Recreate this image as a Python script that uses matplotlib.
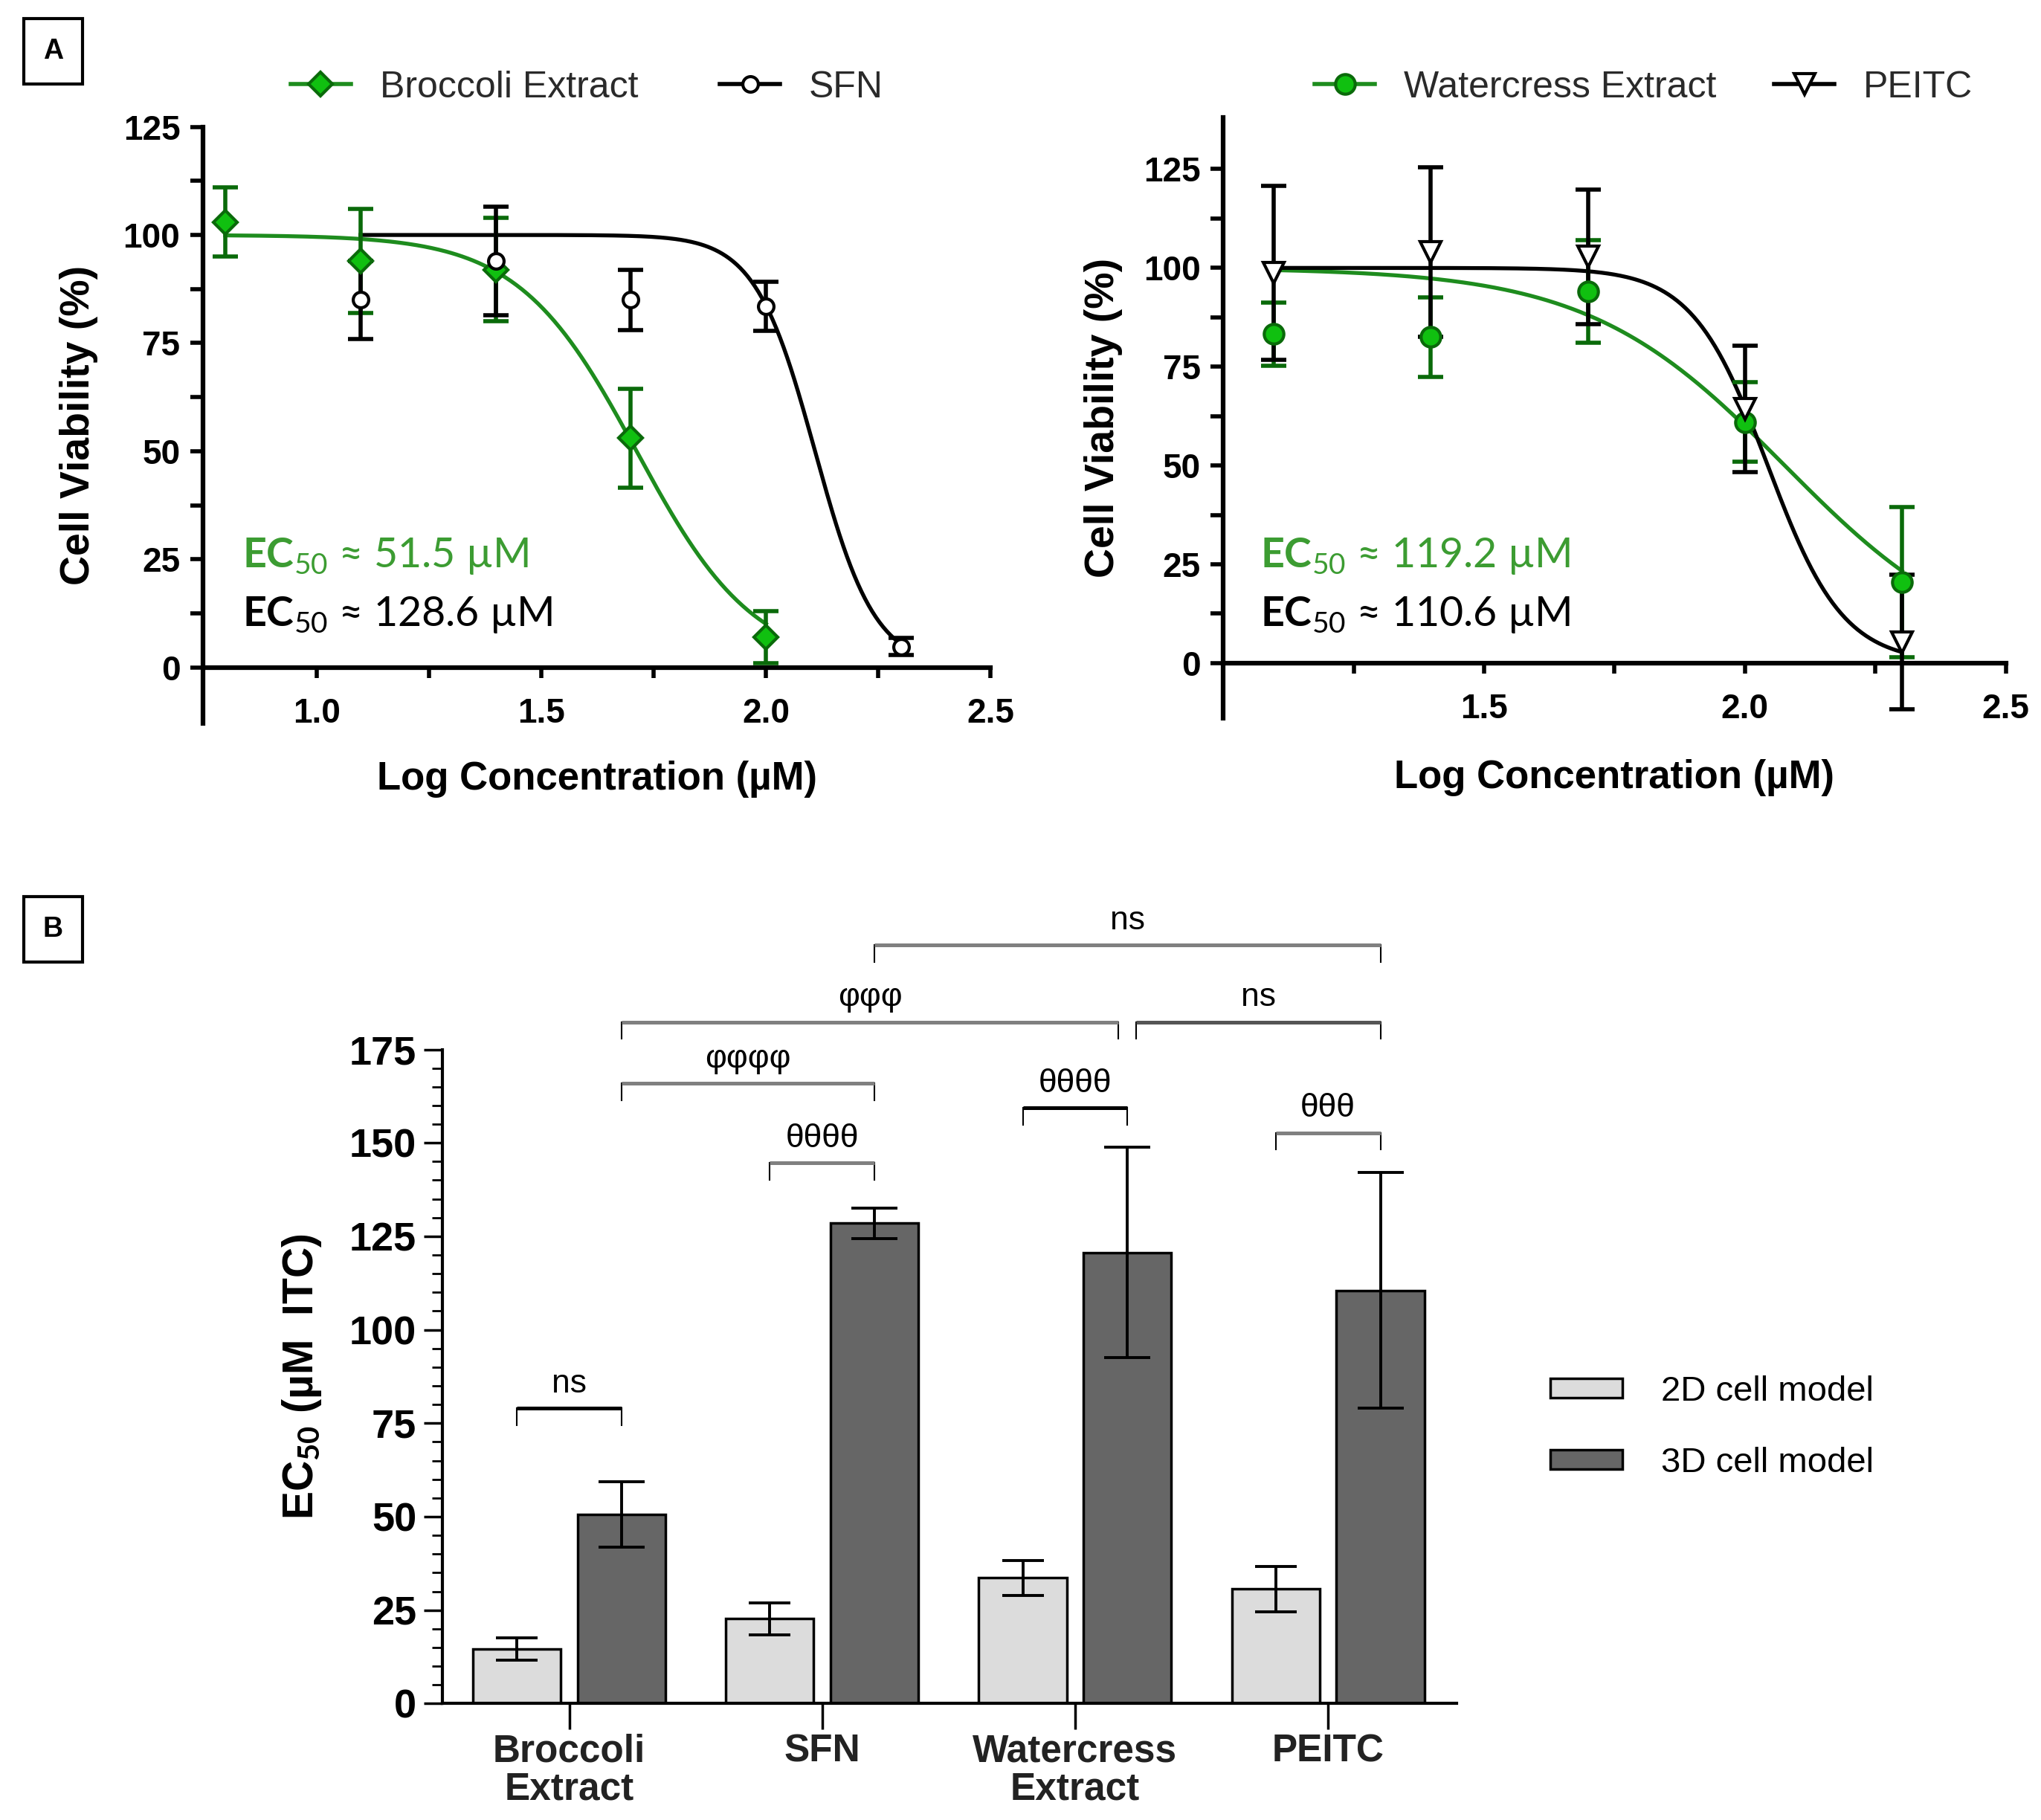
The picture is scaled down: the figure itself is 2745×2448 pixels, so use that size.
import numpy as np
import matplotlib
matplotlib.use("Agg")
import matplotlib.pyplot as plt
from matplotlib.lines import Line2D
from matplotlib.patches import Rectangle

plt.rcParams['mathtext.fontset'] = 'custom'
plt.rcParams['mathtext.rm'] = 'Lato'
plt.rcParams['mathtext.bf'] = 'Lato:bold'

NARROW = ['Liberation Sans', 'DejaVu Sans']
SANS = ['Liberation Sans', 'DejaVu Sans']
CALIB = ['Lato', 'DejaVu Sans']

# ---- panel A data (concentrations in uM, viability in %) ----
conc_broc = [6.25, 12.5, 25, 50, 100]
broc_mean = [103, 94, 92, 53, 7]
broc_sd = [8, 12, 12, 11.5, 6]

conc_sfn = [12.5, 25, 50, 100, 200]
sfn_mean = [85, 94, 85, 83.5, 4.8]
sfn_sd = [9, 12.5, 7, 5.7, 2]

conc_water = [12.5, 25, 50, 100, 200]
water_mean = [83.3, 82.5, 94, 61, 20.5]
water_sd = [8, 10, 13, 10, 19]

conc_peitc = [12.5, 25, 50, 100, 200]
peitc_mean = [98.8, 104, 102.8, 64.3, 5.3]
peitc_sd = [22, 21.5, 17, 16, 17]

# fitted dose-response parameters
broc_ec50, broc_hill = 51.5, 3.3
sfn_ec50, sfn_hill = 128.6, 6.5
water_ec50, water_hill = 119.2, 2.3
peitc_ec50, peitc_hill = 110.6, 6.0

# ---- panel B data ----
categories = ["Broccoli\nExtract", "SFN", "Watercress\nExtract", "PEITC"]
ec50_2d = [14.6, 22.7, 33.6, 30.6]
err_2d = [3.0, 4.3, 4.6, 6.0]
ec50_3d = [50.6, 128.5, 120.7, 110.5]
err_3d = [8.7, 4.1, 28.2, 31.5]

# comparisons: (group, model), (group, model), height, label, bar colour
comparisons = [
    ((0, 0), (0, 1), 79, "ns", "black"),
    ((1, 0), (1, 1), 144.6, "θθθθ", "#808080"),
    ((2, 0), (2, 1), 159.3, "θθθθ", "black"),
    ((3, 0), (3, 1), 152.7, "θθθ", "#808080"),
    ((0, 1), (1, 1), 165.9, "φφφφ", "#808080"),
    ((0, 1), (2, 1), 182.3, "φφφ", "#808080"),
    ((2, 1), (3, 1), 182.3, "ns", "#555555"),
    ((1, 1), (3, 1), 202.9, "ns", "#808080"),
]

GREEN_LINE = '#1e8c1e'
GREEN_DARK = '#0a6a0a'
GREEN_FACE = '#10c010'
GREEN_TEXT = '#3c9c32'


def hill(logx, ec50, h):
    return 100.0 / (1 + 10 ** ((logx - np.log10(ec50)) * h))


fig = plt.figure(figsize=(27.45, 24.48), dpi=100)

axL = fig.add_axes([0.0994, 0.6024, 0.3859, 0.3279])
axR = fig.add_axes([0.5994, 0.6053, 0.3833, 0.3300])
axB = fig.add_axes([0.2167, 0.0640, 0.4968, 0.3594])


def style_dose_axis(ax, xlim, ylim, xmajor):
    ax.set_xlim(*xlim)
    ax.set_ylim(*ylim)
    for s in ['top', 'right']:
        ax.spines[s].set_visible(False)
    ax.spines['bottom'].set_position(('data', 0))
    ax.spines['left'].set_linewidth(4.5)
    ax.spines['bottom'].set_linewidth(4.5)
    ax.set_yticks([0, 25, 50, 75, 100, 125])
    ax.set_yticks([12.5, 37.5, 62.5, 87.5, 112.5], minor=True)
    ax.set_xticks(xmajor)
    ax.set_xticks([1.25, 1.75, 2.25], minor=True)
    ax.tick_params(axis='y', which='both', direction='out', length=12, width=4, pad=10)
    ax.tick_params(axis='x', which='both', direction='out', length=10, width=4, pad=19)
    for lab in ax.get_xticklabels() + ax.get_yticklabels():
        lab.set_fontfamily(NARROW)
        lab.set_fontweight('bold')
        lab.set_fontsize(33)


def dose_panel(ax, series, legend_x, colspace, ec_texts):
    handles = []
    for conc, mean, sd, ec50, h, col, fc, ec, mk, ms, label in series:
        lx = np.log10(conc)
        xs = np.linspace(lx[0], lx[-1], 300)
        ax.plot(xs, hill(xs, ec50, h), color=col, lw=3.8, zorder=2, clip_on=False)
        ax.errorbar(lx, mean, yerr=sd, fmt='none', ecolor=ec, elinewidth=4,
                    capsize=12, capthick=4, zorder=3, clip_on=False)
        ax.plot(lx, mean, ls='none', marker=mk, ms=ms, mfc=fc, mec=ec, mew=3,
                zorder=4, clip_on=False)
        handles.append(Line2D([], [], color=col, lw=4, marker=mk, ms=ms,
                              mfc=fc, mec=ec, mew=3, label=label))
    ax.set_ylabel("Cell Viability (%)", fontfamily=SANS, fontweight='bold', fontsize=40)
    ax.set_xlabel("Log Concentration (µM)", fontfamily=SANS, fontweight='bold', fontsize=38)
    fig.legend(handles=handles, loc='center left', bbox_to_anchor=(legend_x, 0.9518),
               ncol=2, frameon=False, borderpad=0, borderaxespad=0,
               handlelength=1.62, handletextpad=0.78, columnspacing=colspace,
               prop={'family': NARROW, 'size': 36}, labelcolor='#2a2a2a')
    for (tx, ty, num, col) in ec_texts:
        ax.text(tx, ty, r"$\mathbf{EC}_{\mathrm{50}}$" + " ≈ " + num + " µM",
                transform=ax.transAxes, color=col, fontsize=40, fontfamily=CALIB,
                va='center', ha='left')


# ---- A left ----
style_dose_axis(axL, (0.746, 2.5), (-13, 125), [1.0, 1.5, 2.0, 2.5])
dose_panel(axL, [
    (conc_broc, broc_mean, broc_sd, broc_ec50, broc_hill, GREEN_LINE, GREEN_FACE, GREEN_DARK, 'D', 16, 'Broccoli Extract'),
    (conc_sfn, sfn_mean, sfn_sd, sfn_ec50, sfn_hill, 'black', 'white', 'black', 'o', 15, 'SFN'),
], 0.1423, 2.2, [(0.05, 0.281, "51.5", GREEN_TEXT), (0.05, 0.182, "128.6", 'black')])
axL.yaxis.set_label_coords(-0.133, 0.5)
axL.xaxis.set_label_coords(0.5, -0.062)

# ---- A right ----
style_dose_axis(axR, (1.0, 2.5), (-14, 138), [1.5, 2.0, 2.5])
dose_panel(axR, [
    (conc_water, water_mean, water_sd, water_ec50, water_hill, GREEN_LINE, GREEN_FACE, GREEN_DARK, 'o', 19, 'Watercress Extract'),
    (conc_peitc, peitc_mean, peitc_sd, peitc_ec50, peitc_hill, 'black', 'white', 'black', 'v', 20, 'PEITC'),
], 0.6442, 1.55, [(0.047, 0.270, "119.2", GREEN_TEXT), (0.047, 0.172, "110.6", 'black')])
axR.yaxis.set_label_coords(-0.129, 0.5)
axR.xaxis.set_label_coords(0.5, -0.068)

# ---- B bars ----
x = np.arange(len(categories))
off, bw = 0.207, 0.347
axB.bar(x - off, ec50_2d, bw, color='#dcdcdc', edgecolor='black', lw=2.5, zorder=2, label='2D cell model')
axB.bar(x + off, ec50_3d, bw, color='#666666', edgecolor='black', lw=2.5, zorder=2, label='3D cell model')
axB.errorbar(x - off, ec50_2d, yerr=err_2d, fmt='none', ecolor='black', elinewidth=2.8,
             capsize=20, capthick=2.8, zorder=3)
axB.errorbar(x + off, ec50_3d, yerr=err_3d, fmt='none', ecolor='black', elinewidth=2.8,
             capsize=22, capthick=2.8, zorder=3)
axB.set_xlim(-0.502, 3.507)
axB.set_ylim(0, 175)
for s in ['top', 'right']:
    axB.spines[s].set_visible(False)
axB.spines['left'].set_linewidth(3)
axB.spines['bottom'].set_linewidth(3)
axB.set_yticks(np.arange(0, 176, 25))
axB.set_yticks(np.arange(0, 176, 5), minor=True)
axB.set_xticks(x)
axB.set_xticklabels(categories, fontfamily=SANS, fontweight='bold', fontsize=37, linespacing=1.05,
                    color='#222222')
axB.tick_params(axis='x', length=25, width=2.5, pad=4)
axB.tick_params(axis='y', which='major', length=18, width=2.5, pad=7)
axB.tick_params(axis='y', which='minor', length=10, width=2)
for lab in axB.get_yticklabels():
    lab.set_fontfamily(SANS)
    lab.set_fontweight('bold')
    lab.set_fontsize(39)
axB.set_ylabel(r"EC$_{\mathbf{50}}$ (µM  ITC)", fontfamily=SANS, fontweight='bold', fontsize=41)
axB.yaxis.set_label_coords(-0.117, 0.5)

leg = axB.legend(loc='center left', bbox_to_anchor=(0.7596, 0.2157), bbox_transform=fig.transFigure,
                 frameon=False, borderpad=0, borderaxespad=0, handlelength=2.05, handleheight=0.48,
                 handletextpad=1.1, labelspacing=1.1, prop={'family': NARROW, 'size': 34})

# significance brackets
ends = {}
for (g1, m1), (g2, m2), yb, lab, col in comparisons:
    x1 = g1 + (off if m1 else -off)
    x2 = g2 + (off if m2 else -off)
    ends.setdefault(yb, []).append([x1, x2])
for yb, segs in ends.items():
    for a in segs:
        for b in segs:
            if a is not b and abs(a[1] - b[0]) < 1e-6:
                a[1] -= 0.035
                b[0] += 0.035
used = {}
for (g1, m1), (g2, m2), yb, lab, col in comparisons:
    i = used.get(yb, 0)
    used[yb] = i + 1
    x1, x2 = ends[yb][i]
    axB.plot([x1, x1], [yb, yb - 4.5], color='black', lw=1.5, clip_on=False, zorder=4)
    axB.plot([x2, x2], [yb, yb - 4.5], color='black', lw=1.5, clip_on=False, zorder=4)
    axB.plot([x1, x2], [yb, yb], color=col, lw=3.6, clip_on=False, zorder=5,
             solid_capstyle='butt')
    axB.text((x1 + x2) / 2, yb + 2.5, lab, ha='center', va='bottom', fontsize=32,
             fontfamily=NARROW, color='black', clip_on=False)

# panel letters in boxes
for lab, ytop in [("A", 14), ("B", 685)]:
    fx, fy = 18 / 1560, 1 - (ytop + 50) / 1391
    fig.add_artist(Rectangle((fx, fy), 45 / 1560, 50 / 1391, transform=fig.transFigure,
                             fill=False, edgecolor='black', lw=3))
    fig.text(fx + 22.5 / 1560, fy + 25 / 1391, lab, ha='center', va='center',
             fontsize=27, fontweight='bold', fontfamily=SANS)

fig.savefig("out.png", dpi=100)
